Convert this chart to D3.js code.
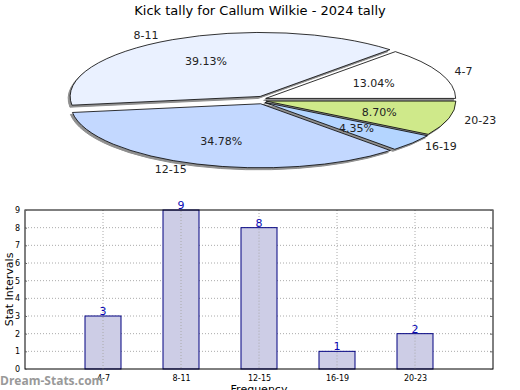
<!DOCTYPE html>
<html>
<head>
<meta charset="utf-8">
<script src="https://cdn.jsdelivr.net/npm/d3@7"></script>
<style>
  body { margin: 0; background: #fff; }
  text { font-family: "DejaVu Sans", sans-serif; }
</style>
</head>
<body>
<svg width="520" height="390"></svg>
<script>
const categories = ['4-7', '8-11', '12-15', '16-19', '20-23'];
const counts = [3, 9, 8, 1, 2];
const sliceColors = ['#ffffff', '#eaf1ff', '#c3d8ff', '#b4d5ff', '#cfe98a'];
const yTicks = [0, 1, 2, 3, 4, 5, 6, 7, 8, 9];

const svg = d3.select('svg');
const total = d3.sum(counts);

svg.append('text')
  .attr('x', 260).attr('y', 15)
  .attr('text-anchor', 'middle')
  .style('font-size', '13px')
  .text('Kick tally for Callum Wilkie - 2024 tally');

// ---- pie (flattened) ----
const cx = 262, cy = 100, rx = 190, ry = 64;
const explode = 4;

const pie = d3.pie().sort(null)
  .startAngle(Math.PI / 2)
  .endAngle(Math.PI / 2 - 2 * Math.PI);
const arcs = pie(counts);
const arc = d3.arc().innerRadius(0).outerRadius(rx);
const mid = d => (d.startAngle + d.endAngle) / 2;

const pieG = svg.append('g');

function sliceGroup(d, dx, dy) {
  const a = mid(d);
  const ox = cx + explode * Math.sin(a) + dx;
  const oy = cy - explode * Math.cos(a) + dy;
  return pieG.append('g')
    .attr('transform', `translate(${ox},${oy}) scale(1,${ry / rx})`);
}

// shadows
arcs.forEach(d => {
  sliceGroup(d, -2, 2).append('path')
    .attr('d', arc(d))
    .attr('fill', '#8f8f8f')
    .attr('stroke', '#8f8f8f')
    .attr('stroke-width', 1)
    .attr('vector-effect', 'non-scaling-stroke');
});
// slices
arcs.forEach((d, i) => {
  sliceGroup(d, 0, 0).append('path')
    .attr('d', arc(d))
    .attr('fill', sliceColors[i])
    .attr('stroke', '#000')
    .attr('stroke-width', 0.8)
    .attr('vector-effect', 'non-scaling-stroke');
});

arcs.forEach((d, i) => {
  const a = mid(d);
  const s = Math.sin(a), c = Math.cos(a);
  // percent inside
  pieG.append('text')
    .attr('x', cx + explode * s + rx * 0.62 * s)
    .attr('y', cy - explode * c - ry * 0.62 * c + 4)
    .attr('text-anchor', 'middle')
    .style('font-size', '11px')
    .attr('fill', '#222')
    .text((counts[i] / total * 100).toFixed(2) + '%');
  // category outside
  const onRight = s > 0;
  pieG.append('text')
    .attr('x', cx + (onRight ? 210 : 225) * s)
    .attr('y', cy - (ry + 9) * c + 4)
    .attr('text-anchor', onRight ? 'start' : 'end')
    .style('font-size', '11px')
    .attr('fill', '#222')
    .text(categories[i]);
});

// ---- bar chart ----
const plotL = 25, plotR = 493, plotT = 210, plotB = 369;
const x = d3.scalePoint().domain(categories).range([plotL, plotR]).padding(1);
const y = d3.scaleLinear().domain([0, 9]).range([plotB, plotT]);
const barW = 36;

const g = svg.append('g');

// grid
g.selectAll('.hgrid').data(yTicks.slice(1, -1)).enter().append('line')
  .attr('x1', plotL).attr('x2', plotR)
  .attr('y1', d => y(d)).attr('y2', d => y(d))
  .attr('stroke', '#aaa').attr('stroke-dasharray', '1,2');
g.selectAll('.vgrid').data(categories).enter().append('line')
  .attr('x1', d => x(d)).attr('x2', d => x(d))
  .attr('y1', plotT).attr('y2', plotB)
  .attr('stroke', '#aaa').attr('stroke-dasharray', '1,2');

// bars
g.selectAll('.bar').data(counts).enter().append('rect')
  .attr('x', (d, i) => x(categories[i]) - barW / 2)
  .attr('y', d => y(d))
  .attr('width', barW)
  .attr('height', d => plotB - y(d))
  .attr('fill', '#cdcde6')
  .attr('stroke', '#000080')
  .attr('stroke-width', 1);

// grid line shows through bars
g.selectAll('.vgrid2').data(categories).enter().append('line')
  .attr('x1', d => x(d)).attr('x2', d => x(d))
  .attr('y1', (d, i) => y(counts[i]) + 1).attr('y2', plotB)
  .attr('stroke', '#aaa').attr('stroke-dasharray', '1,2');

g.selectAll('.val').data(counts).enter().append('text')
  .attr('x', (d, i) => x(categories[i]))
  .attr('y', d => y(d) - 1)
  .attr('text-anchor', 'middle')
  .style('font-size', '11px')
  .attr('fill', '#0a0ab4')
  .text(d => d);

// frame
g.append('rect')
  .attr('x', plotL).attr('y', plotT)
  .attr('width', plotR - plotL).attr('height', plotB - plotT)
  .attr('fill', 'none').attr('stroke', '#000').attr('stroke-width', 1);

// axes
const yAxis = g.append('g')
  .attr('transform', `translate(${plotL},0)`)
  .call(d3.axisLeft(y).tickValues(yTicks).tickSize(-2).tickPadding(5));
const yAxisR = g.append('g')
  .attr('transform', `translate(${plotR},0)`)
  .call(d3.axisRight(y).tickValues(yTicks).tickSize(-3).tickFormat(''));
const xAxis = g.append('g')
  .attr('transform', `translate(0,${plotB})`)
  .call(d3.axisBottom(x).tickSize(0).tickPadding(6));
[yAxis, yAxisR, xAxis].forEach(a => {
  a.select('.domain').remove();
  a.selectAll('text').style('font-size', '8px').attr('font-family', 'DejaVu Sans, sans-serif').attr('fill', '#000');
  a.selectAll('line').attr('stroke', '#666');
});

svg.append('text')
  .attr('x', (plotL + plotR) / 2).attr('y', 393)
  .attr('text-anchor', 'middle')
  .style('font-size', '11px')
  .text('Frequency');

svg.append('text')
  .attr('transform', `translate(13,${(plotT + plotB) / 2}) rotate(-90)`)
  .attr('text-anchor', 'middle')
  .style('font-size', '11px')
  .text('Stat Intervals');

svg.append('text')
  .attr('x', 0).attr('y', 385)
  .style('font-size', '12px')
  .style('font-weight', 'bold')
  .attr('fill', '#999')
  .style('font-family', '"Open Sans", "DejaVu Sans", sans-serif')
  .text('Dream-Stats.com');
</script>
</body>
</html>
